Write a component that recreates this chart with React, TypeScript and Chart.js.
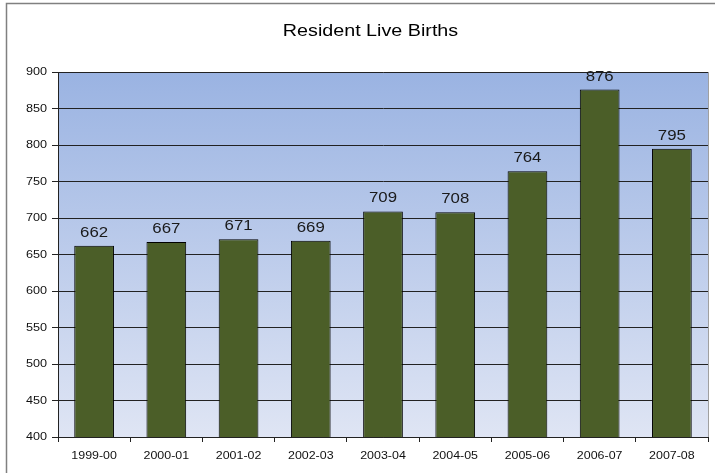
import React, { useEffect, useRef } from "react";
import { Chart, registerables } from "chart.js";

Chart.register(...registerables);

const categories = ["1999-00", "2000-01", "2001-02", "2002-03", "2003-04", "2004-05", "2005-06", "2006-07", "2007-08"];
const births = [662, 667, 671, 669, 709, 708, 764, 876, 795];
const yTicks = [400, 450, 500, 550, 600, 650, 700, 750, 800, 850, 900];
const titleText = "Resident Live Births";

const FONT = "'Liberation Sans', Arial, sans-serif";

function stretched(ctx: any, text: string, x: number, y: number, sx: number, align: "left" | "center" | "right") {
  ctx.save();
  ctx.translate(x, y);
  ctx.scale(sx, 1);
  ctx.textAlign = align;
  ctx.fillText(text, 0, 0);
  ctx.restore();
}

const framePlugin = {
  id: "frame",
  beforeDraw(chart: any) {
    const { ctx, chartArea } = chart;
    ctx.save();
    ctx.fillStyle = "#ffffff";
    ctx.fillRect(0, 0, chart.width, chart.height);
    ctx.strokeStyle = "#808080";
    ctx.lineWidth = 1.5;
    ctx.beginPath();
    ctx.moveTo(6.5, chart.height + 2);
    ctx.lineTo(6.5, 3.5);
    ctx.lineTo(chart.width + 2, 3.5);
    ctx.stroke();
    const g = ctx.createLinearGradient(0, chartArea.top, 0, chartArea.bottom);
    g.addColorStop(0, "#9AB3E2");
    g.addColorStop(1, "#DFE5F4");
    ctx.fillStyle = g;
    ctx.fillRect(chartArea.left, chartArea.top, chartArea.right - chartArea.left, chartArea.bottom - chartArea.top);
    ctx.strokeStyle = "#A0A0A0";
    ctx.lineWidth = 1;
    ctx.strokeRect(chartArea.left + 0.5, chartArea.top + 0.5, chartArea.right - chartArea.left, chartArea.bottom - chartArea.top);
    ctx.fillStyle = "#000000";
    ctx.font = "17px " + FONT;
    ctx.textBaseline = "middle";
    stretched(ctx, titleText, 370.5, 31, 1.16, "center");
    ctx.restore();
  },
  afterDraw(chart: any) {
    const { ctx } = chart;
    const xs = chart.scales.x;
    const ys = chart.scales.y;
    ctx.save();
    ctx.fillStyle = "#111111";
    ctx.font = "11px " + FONT;
    ctx.textBaseline = "middle";
    yTicks.forEach((v) => {
      stretched(ctx, String(v), 47, ys.getPixelForValue(v), 1.15, "right");
    });
    categories.forEach((c, i) => {
      stretched(ctx, c, xs.getPixelForValue(i), 456, 1.13, "center");
    });
    ctx.restore();
  },
  afterDatasetsDraw(chart: any) {
    const { ctx } = chart;
    const meta = chart.getDatasetMeta(0);
    ctx.save();
    ctx.fillStyle = "#1a1a1a";
    ctx.font = "14px " + FONT;
    ctx.textBaseline = "alphabetic";
    meta.data.forEach((bar: any, i: number) => {
      stretched(ctx, String(births[i]), bar.x, bar.y - 9, 1.2, "center");
    });
    ctx.restore();
  },
};

export default function App() {
  const ref = useRef<HTMLCanvasElement>(null);
  useEffect(() => {
    document.body.style.margin = "0";
    const chart = new Chart(ref.current!, {
      type: "bar",
      data: {
        labels: categories,
        datasets: [
          {
            data: births,
            backgroundColor: "#4B5E28",
            borderColor: "#000000",
            borderWidth: 1,
            borderSkipped: "start",
            barPercentage: 0.55,
            categoryPercentage: 1,
          },
        ],
      },
      options: {
        responsive: false,
        animation: false,
        devicePixelRatio: 1,
        layout: { padding: { left: 6, right: 7, top: 72, bottom: 0 } },
        plugins: { legend: { display: false }, tooltip: { enabled: false }, title: { display: false } },
        scales: {
          x: {
            afterFit: (s: any) => { s.height = 36; },
            grid: { display: true, offset: true, drawOnChartArea: false, drawTicks: true, tickLength: 5, color: "#222222" },
            border: { display: true, color: "#222222", width: 1 },
            ticks: { display: true, color: "rgba(0,0,0,0)", font: { size: 11, family: FONT }, padding: 6, maxRotation: 0 },
          },
          y: {
            min: 400,
            max: 900,
            afterFit: (s: any) => { s.width = 52; },
            grid: { color: "#222222", lineWidth: 1, tickLength: 6 },
            border: { display: true, color: "#222222", width: 1 },
            ticks: { stepSize: 50, color: "rgba(0,0,0,0)", font: { size: 11, family: FONT }, padding: 4 },
          },
        },
      },
      plugins: [framePlugin],
    });
    return () => chart.destroy();
  }, []);
  return <canvas ref={ref} width={715} height={473} style={{ display: "block" }} />;
}
